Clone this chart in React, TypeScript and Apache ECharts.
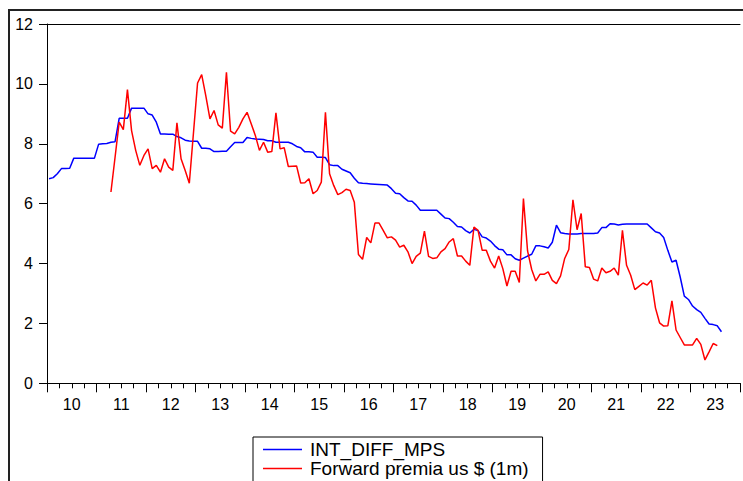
import React, { useEffect, useRef } from "react";
import * as echarts from "echarts";

const START_YEAR = 2010;
const MONTH_COUNT = 168; // 2010-01 .. 2023-12
const months: string[] = [];
for (let i = 0; i < MONTH_COUNT; i++) {
  const y = START_YEAR + Math.floor(i / 12);
  const m = (i % 12) + 1;
  months.push(`${y}-${m < 10 ? "0" + m : m}`);
}

const seriesNames = ["INT_DIFF_MPS", "Forward premia us $ (1m)"];
const yTicks = [0, 2, 4, 6, 8, 10, 12];
const yearLabels = ["10", "11", "12", "13", "14", "15", "16", "17", "18", "19", "20", "21", "22", "23"];

// INT_DIFF_MPS, from 2010-01
const blueStart = "2010-01";
const blueValues = [
  6.83, 6.87, 7.0, 7.17, 7.17, 7.18, 7.52, 7.52, 7.52, 7.52, 7.52, 7.52,
  7.98, 8.0, 8.01, 8.05, 8.07, 8.85, 8.85, 8.85, 9.19, 9.19, 9.19, 9.19,
  9.0, 8.96, 8.72, 8.33, 8.33, 8.32, 8.32, 8.24, 8.2, 8.12, 8.09, 8.08,
  8.08, 7.85, 7.85, 7.83, 7.74, 7.74, 7.75, 7.75, 7.9, 8.04, 8.04, 8.04,
  8.21, 8.18, 8.16, 8.15, 8.14, 8.1, 8.1, 8.05, 8.05, 8.05, 8.05, 8.0,
  7.91, 7.87, 7.73, 7.73, 7.72, 7.55, 7.55, 7.54, 7.3, 7.27, 7.27, 7.15,
  7.09, 7.03, 6.85, 6.7, 6.68, 6.67, 6.66, 6.65, 6.64, 6.63, 6.62, 6.5,
  6.35, 6.33, 6.2, 6.09, 6.08, 5.95, 5.78, 5.78, 5.78, 5.78, 5.78, 5.65,
  5.52, 5.5, 5.38, 5.24, 5.22, 5.1, 5.02, 5.14, 5.1, 4.89, 4.85, 4.75,
  4.6, 4.48, 4.46, 4.29, 4.29, 4.16, 4.11, 4.18, 4.25, 4.31, 4.59, 4.59,
  4.56, 4.52, 4.71, 5.28, 5.03, 5.0, 4.99, 4.99, 4.99, 5.0, 5.0, 5.0,
  5.0, 5.02, 5.2, 5.2, 5.33, 5.32, 5.29, 5.31, 5.32, 5.32, 5.32, 5.32,
  5.32, 5.32, 5.19, 5.06, 5.02, 4.87, 4.44, 4.05, 4.11, 3.55, 2.91, 2.8,
  2.58, 2.46, 2.37, 2.17, 1.98, 1.96, 1.92, 1.72,
];

// Forward premia us $ (1m), from 2011-04
const redStart = "2011-04";
const redValues = [
  6.39, 7.55, 8.72, 8.47, 9.81, 8.44, 7.78, 7.28, 7.61,
  7.83, 7.17, 7.28, 7.05, 7.5, 7.22, 7.11, 8.7, 7.5, 7.11, 6.68, 8.35,
  10.03, 10.31, 9.6, 8.83, 9.11, 8.63, 8.52, 10.39, 8.42, 8.33, 8.55, 8.83,
  9.05, 8.67, 8.28, 7.78, 8.05, 7.72, 7.74, 9.03, 7.83, 7.87, 7.24, 7.25,
  7.26, 6.69, 6.7, 6.83, 6.33, 6.44, 6.72, 9.05, 7.0, 6.61, 6.3, 6.37,
  6.48, 6.44, 6.05, 4.3, 4.14, 4.87, 4.69, 5.35, 5.35, 5.11, 4.86, 4.89,
  4.78, 4.55, 4.61, 4.39, 4.0, 4.24, 4.35, 5.08, 4.24, 4.17, 4.19, 4.39,
  4.5, 4.72, 4.83, 4.25, 4.25, 4.08, 3.94, 5.22, 5.11, 4.44, 4.44, 4.08,
  3.85, 4.25, 3.83, 3.25, 3.74, 3.74, 3.37, 6.17, 4.42, 3.8, 3.42, 3.64,
  3.64, 3.72, 3.44, 3.33, 3.59, 4.17, 4.47, 6.13, 5.13, 5.67, 3.89, 3.87,
  3.48, 3.42, 3.85, 3.69, 3.74, 3.85, 3.61, 5.11, 3.94, 3.61, 3.13, 3.24,
  3.35, 3.28, 3.44, 2.52, 2.02, 1.91, 1.92, 2.75, 1.78, 1.53, 1.28, 1.28,
  1.28, 1.5, 1.3, 0.78, 1.05, 1.33, 1.26,
];

function monthToX(label: string): number {
  const [y, m] = label.split("-").map(Number);
  return y + (m - 0.5) / 12;
}

function buildSeries(start: string, values: number[]): [number, number][] {
  const s = months.indexOf(start);
  return values.map((v, i) => [monthToX(months[s + i]), v]);
}

const FONT = "Liberation Sans, Arial, sans-serif";

export default function App() {
  const ref = useRef<HTMLDivElement>(null);
  useEffect(() => {
    if (!ref.current) return;
    const chart = echarts.init(ref.current, null, { renderer: "svg" });
    const xMin = START_YEAR;
    const xMax = START_YEAR + yearLabels.length;
    chart.setOption({
      animation: false,
      backgroundColor: "#fff",
      textStyle: { fontFamily: FONT },
      grid: { left: 47, top: 24, width: 694.6, height: 359.3, show: false },
      legend: {
        data: seriesNames,
        orient: "vertical",
        left: 253,
        top: 437,
        height: 38,
        padding: [3, 14, 5, 10],
        itemGap: 0,
        itemWidth: 39,
        itemHeight: 1.5,
        icon: "rect",
        borderColor: "#000",
        borderWidth: 1,
        borderRadius: 0,
        textStyle: { fontSize: 19, color: "#000", fontFamily: FONT, padding: [0, 0, 0, 3], lineHeight: 19 },
      },
      xAxis: [
        {
          type: "value",
          min: xMin,
          max: xMax,
          interval: 0.25,
          position: "bottom",
          axisLine: { show: true, onZero: false, lineStyle: { color: "#000", width: 1 } },
          axisTick: { show: true, length: 5, lineStyle: { color: "#000" } },
          splitLine: { show: false },
          axisLabel: {
            show: true,
            fontSize: 16,
            color: "#000",
            fontFamily: FONT,
            margin: 13,
            formatter: (v: number) => {
              const f = v - Math.floor(v);
              if (Math.abs(f - 0.5) < 1e-6) {
                const idx = Math.floor(v) - START_YEAR;
                return yearLabels[idx] ?? "";
              }
              return "";
            },
          },
        },
        {
          type: "value",
          min: xMin,
          max: xMax,
          interval: 1,
          position: "bottom",
          axisLine: { show: false, onZero: false },
          axisTick: { show: true, length: 9, lineStyle: { color: "#000" } },
          axisLabel: { show: false },
          splitLine: { show: false },
        },
        {
          type: "value",
          min: xMin,
          max: xMax,
          position: "top",
          axisLine: { show: true, onZero: false, lineStyle: { color: "#000", width: 1 } },
          axisTick: { show: false },
          axisLabel: { show: false },
          splitLine: { show: false },
        },
      ],
      yAxis: {
        type: "value",
        min: yTicks[0],
        max: yTicks[yTicks.length - 1],
        interval: 2,
        axisLine: { show: true, onZero: false, lineStyle: { color: "#000", width: 1 } },
        axisTick: { show: true, length: 8, lineStyle: { color: "#000" } },
        splitLine: { show: false },
        axisLabel: { fontSize: 16, color: "#000", fontFamily: FONT, margin: 14 },
      },
      graphic: [
        { type: "line", shape: { x1: 8, y1: 10, x2: 743, y2: 10 }, style: { stroke: "#222", lineWidth: 2 } },
        { type: "line", shape: { x1: 9, y1: 10, x2: 9, y2: 481 }, style: { stroke: "#222", lineWidth: 2 } },
      ],
      series: [
        {
          name: seriesNames[0],
          type: "line",
          xAxisIndex: 0,
          data: buildSeries(blueStart, blueValues),
          symbol: "none",
          lineStyle: { color: "#0000ff", width: 1.5 },
          itemStyle: { color: "#0000ff" },
        },
        {
          name: seriesNames[1],
          type: "line",
          xAxisIndex: 0,
          data: buildSeries(redStart, redValues),
          symbol: "none",
          lineStyle: { color: "#ff0000", width: 1.5 },
          itemStyle: { color: "#ff0000" },
        },
      ],
    });
    return () => chart.dispose();
  }, []);
  return (
    <div
      ref={ref}
      style={{ position: "absolute", left: 0, top: 0, width: 743, height: 481 }}
    />
  );
}
